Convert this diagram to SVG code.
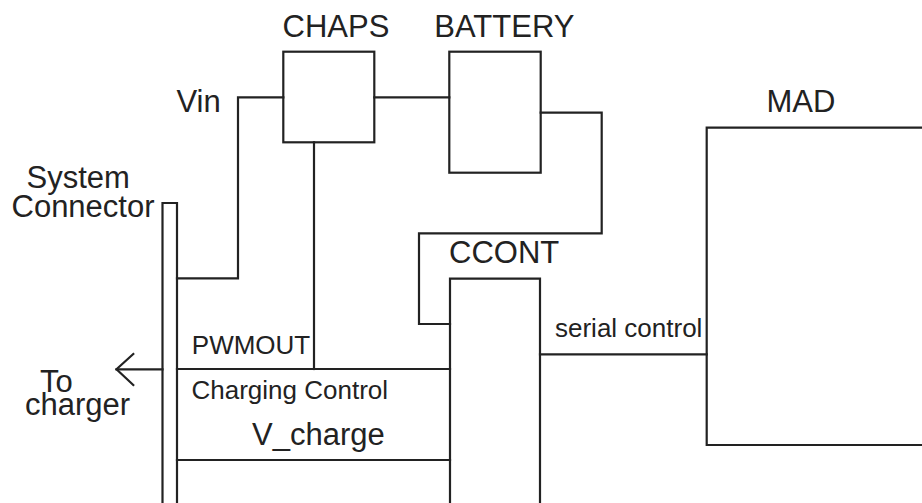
<svg xmlns="http://www.w3.org/2000/svg" width="922" height="503" viewBox="0 0 922 503">
<style>
.ln{fill:none;stroke:#222;stroke-width:2.2;stroke-linejoin:miter;stroke-linecap:square}
.t{font-family:"Liberation Sans",Arial,sans-serif;fill:#222}
.big{font-size:31px}
.sm{font-size:26px}
</style>
<rect width="922" height="503" fill="#fff"/>
<g id="system-connector">
<path class="ln" d="M162.5,503 V203 H177 V503"/>
<text class="t big" x="26.5" y="188.3">System</text>
<text class="t big" x="11.5" y="217.3">Connector</text>
</g>
<g id="chaps">
<rect class="ln" x="283.3" y="51.7" width="91" height="90.6"/>
<text class="t big" x="282.5" y="36.7">CHAPS</text>
</g>
<g id="battery">
<rect class="ln" x="449.3" y="51.7" width="91.4" height="121"/>
<text class="t big" x="434.3" y="36.7">BATTERY</text>
</g>
<g id="ccont">
<path class="ln" d="M450,503 V278.7 H540 V503"/>
<text class="t big" x="449" y="263.3">CCONT</text>
</g>
<g id="mad">
<path class="ln" d="M923,127.7 H706.7 V445 H923"/>
<text class="t big" x="766.5" y="111.7">MAD</text>
</g>
<g id="connectors">
<path class="ln" d="M177,278.3 H238 V97.3 H283.3"/>
<path class="ln" d="M374.3,97.3 H449.3"/>
<path class="ln" d="M540.7,112.7 H601.7 V233.3 H419 V324 H450"/>
<path class="ln" d="M314,142.3 V369"/>
<path class="ln" d="M177,369 H450"/>
<path class="ln" d="M177,460 H450"/>
<path class="ln" d="M540,354.3 H706.7"/>
<path class="ln" d="M162.5,369.3 H116.5"/>
<path class="ln" d="M133.3,354 L116.5,369.3 L133.3,385" stroke-linecap="butt"/>
</g>
<g id="labels">
<text class="t big" x="176.5" y="111.7">Vin</text>
<text class="t sm" x="555" y="336.7">serial control</text>
<text class="t sm" x="191.8" y="354.3">PWMOUT</text>
<text class="t sm" x="191.5" y="399">Charging Control</text>
<text class="t big" x="252" y="445">V_charge</text>
<text class="t big" x="40" y="392.3">To</text>
<text class="t big" x="25" y="415">charger</text>
</g>
</svg>
